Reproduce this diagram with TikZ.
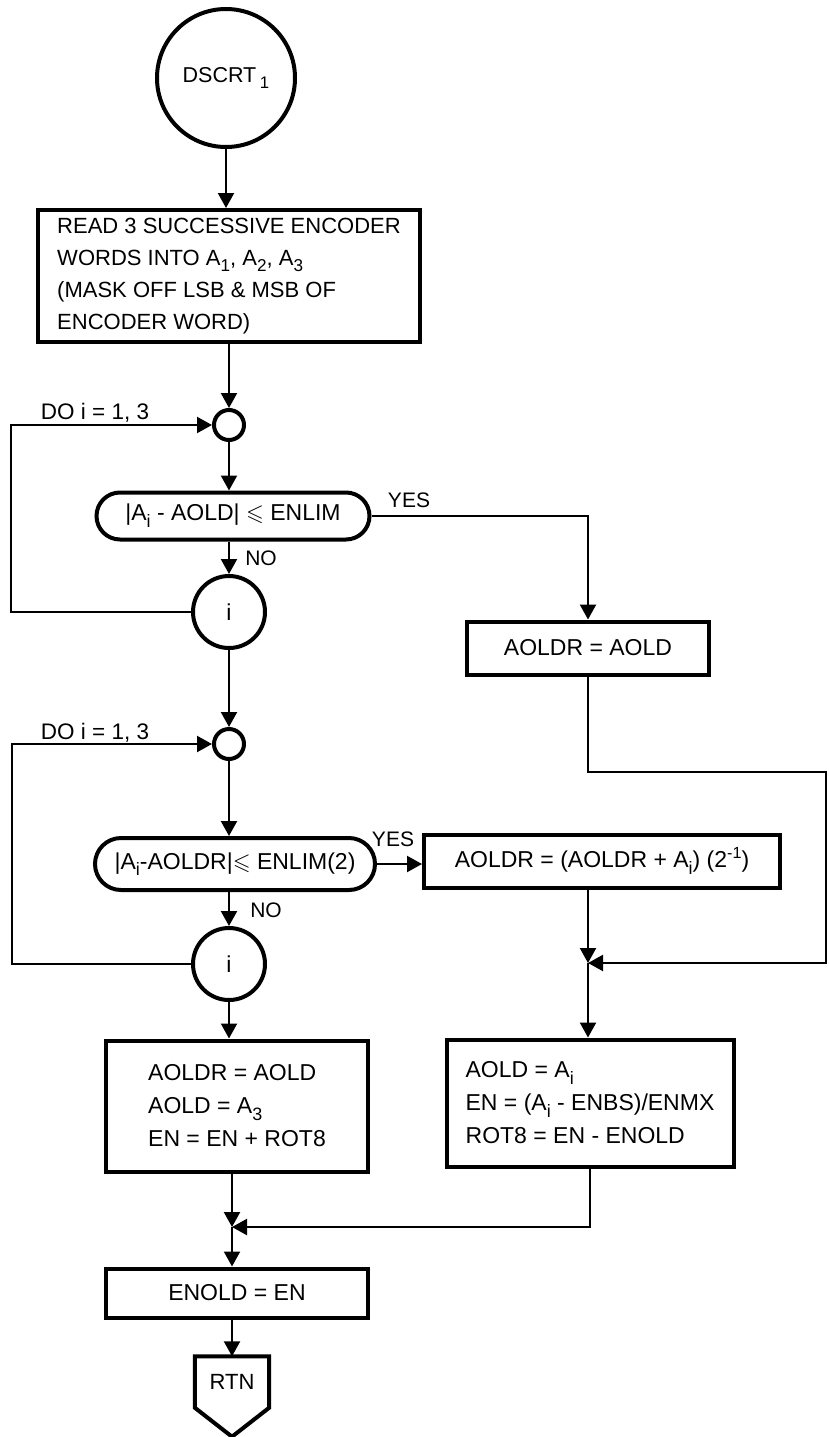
\documentclass[tikz,border=0pt]{standalone}
\usepackage{amsmath,amssymb}
\usepackage{graphicx}
\usepackage{fontspec}
\setmainfont{Liberation Sans}
\usetikzlibrary{arrows.meta,calc,positioning,shapes.misc}
\newcommand{\lowsub}[1]{\raisebox{-0.55ex}{\scalebox{0.78}{#1}}}
\newcommand{\highsup}[1]{\raisebox{0.75ex}{\scalebox{0.7}{#1}}}
\tikzset{
  flow shape/.style={line width=4pt},
  flow box/.style={flow shape,draw,rectangle,inner sep=0pt,align=left,font=\fontsize{23}{33}\selectfont},
  flow test/.style={flow shape,draw,rounded rectangle,inner sep=0pt,font=\fontsize{23}{28}\selectfont},
  flow circle/.style={flow shape,draw,circle,inner sep=0pt,font=\fontsize{23}{28}\selectfont},
  flow arrow/.style={line width=2.2pt,-{Triangle[length=15pt,width=16pt]}},
  flow note/.style={font=\fontsize{21}{25}\selectfont}
}

\begin{document}
\begin{tikzpicture}[
  x=1pt,y=-1pt,
  do note/.style={font=\fontsize{22.5}{27}\selectfont}
]
\useasboundingbox (0,0) rectangle (828,1437);

\node[flow circle,minimum size=138pt,font=\fontsize{21.5}{26}\selectfont] (start) at (226,78) {DSCRT\,\lowsub{1}};
\node[flow box,minimum width=382pt,minimum height=132pt,font=\fontsize{22}{32}\selectfont] (read) at (229,276)
  {READ 3 SUCCESSIVE ENCODER\\
   WORDS INTO A\lowsub{1}, A\lowsub{2}, A\lowsub{3}\\
   (MASK OFF LSB \& MSB OF\\
   ENCODER WORD)};

\node[flow circle,minimum size=30pt] (loop1) at (229,425) {};
\node[do note] (do1) at (95,413) {DO i = 1, 3};
\node[flow test,minimum width=273pt,minimum height=47pt] (test1) at (233,516)
  {|A\lowsub{i} - AOLD| $\leqslant$ ENLIM};
\node[flow note] (yes1) at (409,500) {YES};
\node[flow note] (no1) at (261,558) {NO};
\node[flow circle,minimum size=72pt] (cnt1) at (229,612) {i};
\node[flow box,minimum width=242pt,minimum height=53pt] (keep) at (588,648) {AOLDR = AOLD};

\node[flow circle,minimum size=30pt] (loop2) at (229,744) {};
\node[do note] (do2) at (95,733) {DO i = 1, 3};
\node[flow test,minimum width=280pt,minimum height=52pt] (test2) at (235,864)
  {|A\lowsub{i}-AOLDR|$\leqslant$ ENLIM(2)};
\node[flow note] (yes2) at (393,839) {YES};
\node[flow note] (no2) at (266,910) {NO};
\node[flow box,minimum width=356pt,minimum height=53pt] (avg) at (602,861)
  {AOLDR = (AOLDR + A\lowsub{i}) (2\highsup{-1})};
\node[flow circle,minimum size=72pt] (cnt2) at (229,964) {i};

\node[flow box,minimum width=262pt,minimum height=131pt] (reset) at (237,1106)
  {AOLDR = AOLD\\ AOLD = A\lowsub{3}\\ EN = EN + ROT8};
\node[flow box,minimum width=287pt,minimum height=127pt] (update) at (590,1103)
  {AOLD = A\lowsub{i}\\ EN = (A\lowsub{i} - ENBS)/ENMX\\ ROT8 = EN - ENOLD};
\node[flow box,minimum width=262pt,minimum height=49pt] (save) at (237,1293) {ENOLD = EN};
\node[minimum width=74pt,minimum height=51pt,inner sep=0pt,font=\fontsize{22}{26}\selectfont] (rtn) at (232,1382) {RTN};
\draw[flow shape] (rtn.south west) -- (rtn.north west) -- (rtn.north east) -- (rtn.south east)
  -- ($(rtn.south)+(0,29)$) -- cycle;

\coordinate (back1) at (11,520);
\coordinate (back2) at (12,850);
\coordinate (bend1) at (826,772);
\coordinate (j1) at (588,963);
\coordinate (j2) at (232,1227);

\draw[flow arrow] (start) -- (start |- read.north);
\draw[flow arrow] (read.south -| loop1) -- (loop1);
\draw[flow arrow] (loop1) -- (loop1 |- test1.north);
\draw[flow arrow] (test1.south -| cnt1) -- (cnt1);
\draw[flow arrow] (cnt1.west) -| (back1) |- (loop1.west);
\draw[flow arrow] (test1.east) -| (keep.north);
\draw[flow arrow] (cnt1) -- (loop2);
\draw[flow arrow] (loop2) -- (loop2 |- test2.north);
\draw[flow arrow] (test2.south -| cnt2) -- (cnt2);
\draw[flow arrow] (cnt2.west) -| (back2) |- (loop2.west);
\draw[flow arrow] (test2.east) -- (avg.west |- test2.east);
\draw[flow arrow] (keep.south) |- (bend1) |- (j1);
\draw[flow arrow] (avg.south -| j1) -- (j1);
\draw[flow arrow] (j1) -- (j1 |- update.north);
\draw[flow arrow] (cnt2) -- (cnt2 |- reset.north);
\draw[flow arrow] (reset.south -| j2) -- (j2);
\draw[flow arrow] (update.south) |- (j2);
\draw[flow arrow] (j2) -- (j2 |- save.north);
\draw[flow arrow] (save.south -| rtn) -- (rtn.north);
\end{tikzpicture}
\end{document}
